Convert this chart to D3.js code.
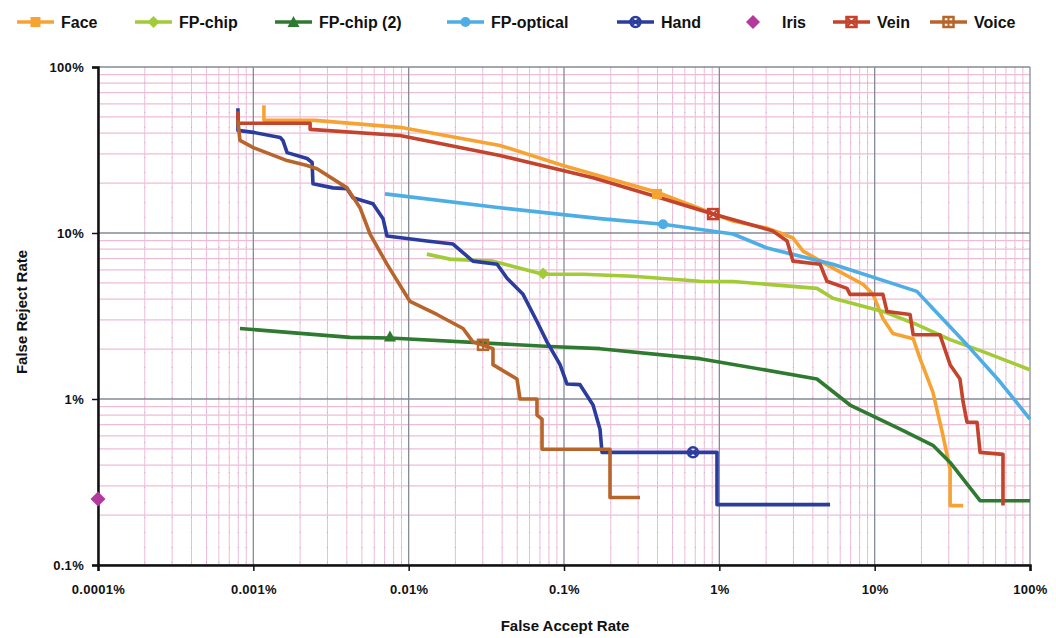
<!DOCTYPE html>
<html><head><meta charset="utf-8">
<script src="https://cdn.jsdelivr.net/npm/d3@7"></script>
<style>
body{margin:0;background:#fff;}
svg{display:block;font-family:"Liberation Sans",Arial,sans-serif;}
</style></head>
<body><svg id="c" width="1056" height="638"></svg>
<script>
// ---- data (FAR %, FRR %) ----
const seriesNames = ["Face","FP-chip","FP-chip (2)","FP-optical","Hand","Iris","Vein","Voice"];
const xTickValues = [0.0001,0.001,0.01,0.1,1,10,100];
const xTickLabels = ["0.0001%","0.001%","0.01%","0.1%","1%","10%","100%"];
const yTickValues = [0.1,1,10,100];
const yTickLabels = ["0.1%","1%","10%","100%"];

const faceData = [[0.00117,58.8],[0.00117,47.7],[0.00249,47.7],[0.0088,43.3],[0.0387,33.7],[0.0985,25.5],[0.397,17.6],[1.225,11.8],[2.03,10.7],[2.57,9.86],[2.98,9.33],[3.46,7.78],[5.39,6.14],[8.41,4.91],[9.76,4.27],[11.3,3.05],[13.1,2.48],[17.7,2.31],[19.6,1.75],[23.7,1.10],[27.5,0.605],[30.6,0.376],[30.6,0.228],[37.1,0.228]];
const fpChipData = [[0.0131,7.46],[0.01846,6.96],[0.0349,6.77],[0.0733,5.64],[0.1326,5.64],[0.278,5.49],[0.751,5.12],[1.225,5.1],[4.25,4.64],[5.39,4.04],[11.3,3.37],[18.7,2.81],[30.6,2.28],[49.8,1.93],[100,1.50]];
const fpChip2Data = [[0.00082,2.66],[0.00419,2.35],[0.00758,2.33],[0.0813,2.07],[0.1705,2.01],[0.751,1.75],[4.25,1.32],[6.94,0.92],[14.6,0.658],[23.7,0.526],[30.6,0.415],[47.7,0.244],[100,0.244]];
const fpOpticalData = [[0.00704,17.2],[0.0387,14.2],[0.1705,12.2],[0.434,11.3],[1.225,9.86],[2.03,8.11],[5.39,6.49],[18.7,4.45],[23.7,3.51],[39.3,2.12],[64.1,1.27],[100,0.757]];
const handData = [[0.000796,56.4],[0.000796,41.5],[0.001,40.4],[0.00149,37.6],[0.00155,36.1],[0.00165,30.5],[0.00222,28.1],[0.00239,26.6],[0.00242,19.8],[0.00326,18.7],[0.00401,18.5],[0.00438,16.3],[0.00589,15.0],[0.00684,12.2],[0.00725,9.59],[0.0131,8.94],[0.0193,8.58],[0.0259,6.77],[0.0371,6.49],[0.043,5.34],[0.0545,4.27],[0.067,2.93],[0.0777,2.21],[0.0943,1.61],[0.1046,1.23],[0.1268,1.22],[0.1538,0.92],[0.1705,0.658],[0.1757,0.477],[0.966,0.477],[0.966,0.231],[5.16,0.231]];
const irisData = [[0.0001,0.25]];
const veinData = [[0.000796,54.1],[0.000796,45.8],[0.00232,45.8],[0.00232,42.1],[0.0088,38.7],[0.0387,29.3],[0.1538,21.5],[0.415,16.3],[0.911,13.0],[2.2,10.3],[2.73,8.94],[2.98,6.77],[4.45,6.49],[4.93,5.12],[6.64,4.64],[6.94,4.27],[11.3,4.27],[12.0,3.37],[16.9,3.23],[17.7,2.44],[26.3,2.44],[30.6,1.61],[35.4,1.32],[37.1,0.96],[39.3,0.725],[45.6,0.725],[47.7,0.477],[67.0,0.464],[67.0,0.228]];
const voiceData = [[0.000796,47.7],[0.00082,36.1],[0.001,32.7],[0.00165,27.3],[0.00222,25.5],[0.00257,24.4],[0.00401,18.7],[0.00486,14.2],[0.00564,9.86],[0.00725,6.49],[0.0102,3.87],[0.0152,3.23],[0.0224,2.66],[0.0259,2.21],[0.0349,2.01],[0.0349,1.61],[0.0498,1.32],[0.0521,1.0],[0.067,1.0],[0.067,0.80],[0.0722,0.757],[0.0722,0.498],[0.1978,0.498],[0.1978,0.255],[0.3085,0.255]];
// one marker per series
const markerPoints = [[0.397,17.2],[0.0733,5.7],[0.00758,2.38],[0.434,11.3],[0.677,0.477],[0.0001,0.25],[0.911,13.0],[0.0301,2.12]];
const seriesColors = ["#F6A333","#A3CB38","#2E7A30","#4DAEE6","#2B3C9F","#B3399C","#C4432C","#B7652A"];
const markerShapes = ["square","diamond","triangle","circle","xcircle","diamond","xbox","plusbox"];
const seriesData = [faceData,fpChipData,fpChip2Data,fpOpticalData,handData,irisData,veinData,voiceData];

// ---- chart ----
const svg = d3.select("#c");
const L=98,R=1030,T=67,B=565;
const x = d3.scaleLog().domain([0.0001,100]).range([L,R]);
const y = d3.scaleLog().domain([0.1,100]).range([B,T]);

// minor grid
const minorX=[],minorY=[];
for(let d=-4; d<2; d++) for(let k=2;k<10;k++) minorX.push(k*Math.pow(10,d));
for(let d=-1; d<2; d++) for(let k=2;k<10;k++) minorY.push(k*Math.pow(10,d));
const g = svg.append("g");
g.selectAll(".mx").data(minorX).join("line").attr("x1",d=>x(d)).attr("x2",d=>x(d)).attr("y1",T).attr("y2",B).attr("stroke","#efbcd8").attr("stroke-width",1);
g.selectAll(".my").data(minorY).join("line").attr("y1",d=>y(d)).attr("y2",d=>y(d)).attr("x1",L).attr("x2",R).attr("stroke","#efbcd8").attr("stroke-width",1.3);
// faint dotted minor overlay
g.selectAll(".mx2").data(minorX).join("line").attr("x1",d=>x(d)).attr("x2",d=>x(d)).attr("y1",T).attr("y2",B).attr("stroke","#9aa3c8").attr("stroke-width",1).attr("stroke-dasharray","1,14").attr("opacity",0.6);
// major grid
g.selectAll(".Mx").data(xTickValues).join("line").attr("x1",d=>x(d)).attr("x2",d=>x(d)).attr("y1",T).attr("y2",B).attr("stroke","#858a99").attr("stroke-width",1.3);
g.selectAll(".My").data(yTickValues).join("line").attr("y1",d=>y(d)).attr("y2",d=>y(d)).attr("x1",L).attr("x2",R).attr("stroke","#858a99").attr("stroke-width",1.3);

// axes
const xAxis = d3.axisBottom(x).tickValues(xTickValues).tickFormat((d,i)=>xTickLabels[i]).tickSize(6).tickPadding(14);
const yAxis = d3.axisLeft(y).tickValues(yTickValues).tickFormat((d,i)=>yTickLabels[i]).tickSize(6).tickPadding(8);
const gx = svg.append("g").attr("transform",`translate(0,${B})`).call(xAxis);
const gy = svg.append("g").attr("transform",`translate(${L},0)`).call(yAxis);
[gx,gy].forEach(a=>{
  a.select(".domain").attr("stroke","#111").attr("stroke-width",2.5);
  a.selectAll(".tick line").attr("stroke","#111").attr("stroke-width",1.5);
  a.selectAll(".tick text").attr("fill","#111").style("font-size","13px").style("font-weight","bold").style("letter-spacing","0.3px").style("font-family","'Liberation Sans',Arial,sans-serif");
});

// lines
const line = d3.line().x(d=>x(d[0])).y(d=>y(d[1]));
svg.append("clipPath").attr("id","pc").append("rect").attr("x",L-8).attr("y",T-8).attr("width",R-L+16).attr("height",B-T+16);
const lg = svg.append("g").attr("clip-path","url(#pc)");
seriesData.forEach((data,i)=>{
  if(data.length<2) return;
  lg.append("path").datum(data).attr("d",line).attr("fill","none").attr("stroke",seriesColors[i]).attr("stroke-width",3.6).attr("stroke-linejoin","round").attr("stroke-linecap","butt");
});

function drawMarker(sel,shape,cx,cy,color,s){
  const h=s/2;
  if(shape==="square") sel.append("rect").attr("x",cx-h).attr("y",cy-h).attr("width",s).attr("height",s).attr("fill",color);
  else if(shape==="diamond") sel.append("path").attr("d",`M${cx},${cy-h-1}L${cx+h+1},${cy}L${cx},${cy+h+1}L${cx-h-1},${cy}Z`).attr("fill",color);
  else if(shape==="triangle") sel.append("path").attr("d",`M${cx},${cy-h-1}L${cx+h+1},${cy+h}L${cx-h-1},${cy+h}Z`).attr("fill",color);
  else if(shape==="circle") sel.append("circle").attr("cx",cx).attr("cy",cy).attr("r",h).attr("fill",color);
  else if(shape==="xcircle"){
    sel.append("circle").attr("cx",cx).attr("cy",cy).attr("r",h).attr("fill","none").attr("stroke",color).attr("stroke-width",2.5);
    sel.append("path").attr("d",`M${cx-h+2},${cy-h+2}L${cx+h-2},${cy+h-2}M${cx+h-2},${cy-h+2}L${cx-h+2},${cy+h-2}`).attr("stroke",color).attr("stroke-width",2);
  } else if(shape==="xbox"){
    sel.append("rect").attr("x",cx-h).attr("y",cy-h).attr("width",s).attr("height",s).attr("fill","none").attr("stroke",color).attr("stroke-width",2.5);
    sel.append("path").attr("d",`M${cx-h},${cy-h}L${cx+h},${cy+h}M${cx+h},${cy-h}L${cx-h},${cy+h}`).attr("stroke",color).attr("stroke-width",2);
  } else if(shape==="plusbox"){
    sel.append("rect").attr("x",cx-h).attr("y",cy-h).attr("width",s).attr("height",s).attr("fill","none").attr("stroke",color).attr("stroke-width",2.5);
    sel.append("path").attr("d",`M${cx},${cy-h}L${cx},${cy+h}M${cx-h},${cy}L${cx+h},${cy}`).attr("stroke",color).attr("stroke-width",2);
  }
}
const mg = svg.append("g");
markerPoints.forEach((p,i)=>drawMarker(mg,markerShapes[i],x(p[0]),y(p[1]),seriesColors[i],seriesNames[i]==="Iris"?13:10));

// legend
const legX = [17,135,275,447,617,745,833,930];
const lgd = svg.append("g");
seriesNames.forEach((n,i)=>{
  const x0=legX[i], cy=22;
  if(n!=="Iris") lgd.append("line").attr("x1",x0).attr("x2",x0+37).attr("y1",cy).attr("y2",cy).attr("stroke",seriesColors[i]).attr("stroke-width",3.6);
  drawMarker(lgd,markerShapes[i],n==="Iris"?x0+8:x0+18.5,cy,seriesColors[i],n==="Iris"?12:10);
  lgd.append("text").attr("x",n==="Iris"?x0+37:x0+44).attr("y",cy).attr("dy","0.36em").text(n).attr("fill","#111").style("font-size","16px").style("font-weight","bold");
});

// axis titles
svg.append("text").attr("x",565).attr("y",626).attr("text-anchor","middle").attr("dy","0.35em").text("False Accept Rate").style("font-size","15px").style("font-weight","bold").attr("fill","#111");
svg.append("text").attr("transform","translate(22,312) rotate(-90)").attr("text-anchor","middle").attr("dy","0.35em").text("False Reject Rate").style("font-size","15px").style("font-weight","bold").attr("fill","#111");
</script></body></html>
